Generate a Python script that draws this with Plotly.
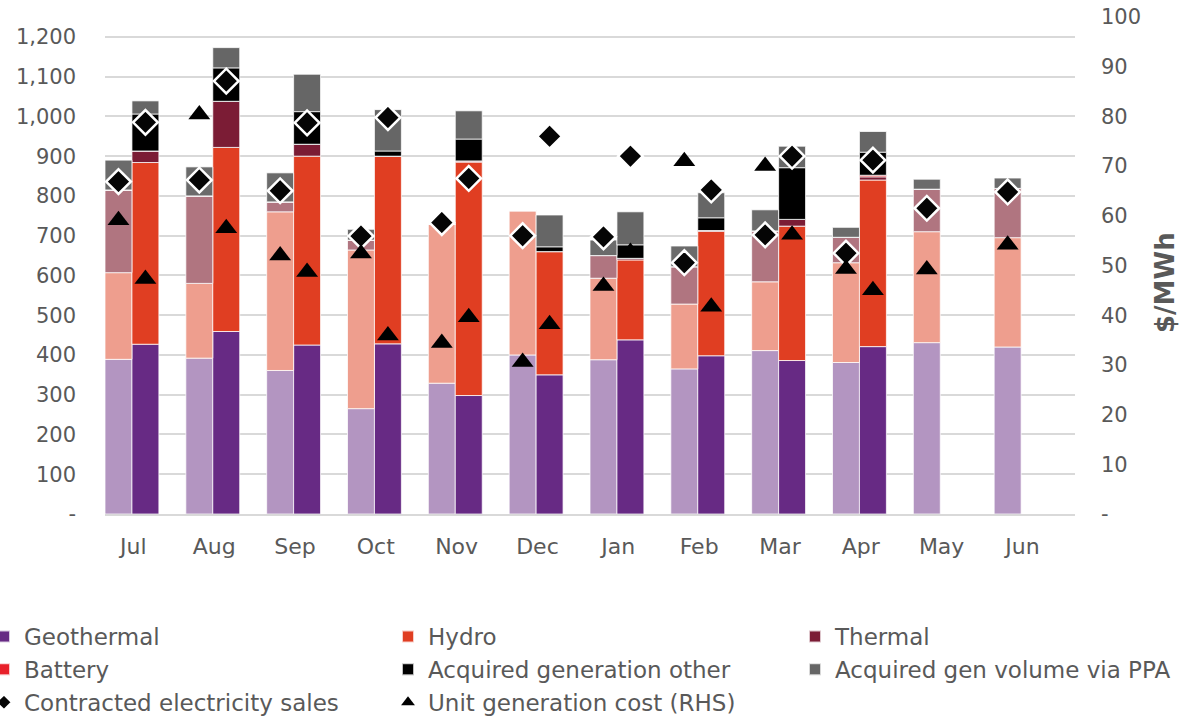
import plotly.graph_objects as go

months = ["Jul", "Aug", "Sep", "Oct", "Nov", "Dec", "Jan", "Feb", "Mar", "Apr", "May", "Jun"]

# Prior year (lighter bars)
geo_prev = [389, 392, 361, 265, 329, 400, 388, 365, 411, 381, 431, 420]
hydro_prev = [218, 188, 399, 399, 400, 362, 205, 163, 173, 251, 279, 275]
thermal_prev = [208, 220, 25, 25, 0, 2, 57, 94, 128, 64, 107, 124]
battery_prev = [0, 0, 0, 0, 0, 0, 0, 0, 0, 0, 0, 0]
other_prev = [0, 0, 0, 0, 0, 0, 0, 0, 0, 0, 0, 0]
ppa_prev = [75, 73, 73, 27, 0, 0, 39, 52, 53, 25, 25, 26]
sales_prev = [836, 840, 813, 699, 733, 700, 697, 632, 702, 656, 769, 810]
cost_prev = [59.1, 80.4, 52.0, 52.4, 34.4, 30.6, 45.9, 71.0, 70.0, 49.3, 49.2, 54.2]

# Current year (darker bars)
geo_curr = [427, 459, 425, 428, 298, 350, 438, 398, 386, 421, None, None]
hydro_curr = [457, 463, 475, 472, 587, 310, 201, 313, 338, 419, None, None]
thermal_curr = [29, 116, 30, 0, 3, 0, 4, 2, 17, 8, None, None]
battery_curr = [0, 0, 0, 0, 0, 0, 0, 0, 0, 4, None, None]
other_curr = [93, 84, 82, 13, 55, 12, 34, 32, 130, 58, None, None]
ppa_curr = [33, 51, 94, 104, 71, 80, 83, 63, 54, 52, None, None]
sales_curr = [985, 1089, 984, 997, 844, 950, 900, 815, 900, 890, None, None]
cost_curr = [47.3, 57.5, 48.7, 35.9, 39.6, 38.2, 52.7, 41.7, 56.2, 45.0, None, None]

left_ticks = list(range(0, 1201, 100))
right_ticks = list(range(0, 101, 10))

n = len(months)
x_prev = [i - 1 / 3 for i in range(n)]
x_curr = [i for i in range(n)]
bar_w = 1 / 3

series = [
    ("Geothermal", geo_prev, geo_curr, "#B395C1", "#672A84", "legend"),
    ("Hydro", hydro_prev, hydro_curr, "#EE9E8E", "#E03E22", "legend2"),
    ("Thermal", thermal_prev, thermal_curr, "#B07580", "#7B1C35", "legend3"),
    ("Battery", battery_prev, battery_curr, "#F08A8E", "#E8202A", "legend"),
    ("Acquired generation other", other_prev, other_curr, "#000000", "#000000", "legend2"),
    ("Acquired gen volume via PPA", ppa_prev, ppa_curr, "#6B6B6B", "#666666", "legend3"),
]

TXT = "#595959"
FONT = "DejaVu Sans"
fig = go.Figure()
line = dict(color="rgba(255,255,255,0.75)", width=1)

for name, prev, curr, cprev, ccurr, lg in series:
    fig.add_trace(go.Bar(x=x_prev, y=prev, width=bar_w, name=name, legendgroup=name,
                         showlegend=False, marker=dict(color=cprev, line=line)))
    fig.add_trace(go.Bar(x=x_curr, y=curr, width=bar_w, name=name, legendgroup=name,
                         legend=lg, marker=dict(color=ccurr, line=line)))

dia = dict(symbol="diamond", size=19, color="#050505", line=dict(color="white", width=2.5))
fig.add_trace(go.Scatter(x=x_prev, y=sales_prev, mode="markers", marker=dia,
                         name="Contracted electricity sales", legendgroup="sales", showlegend=False))
fig.add_trace(go.Scatter(x=x_curr, y=sales_curr, mode="markers", marker=dia,
                         name="Contracted electricity sales", legendgroup="sales", legend="legend"))

tri = dict(symbol="triangle-up", size=19, color="#000000", line=dict(width=0))
fig.add_trace(go.Scatter(x=x_prev, y=cost_prev, mode="markers", marker=tri, yaxis="y2",
                         name="Unit generation cost (RHS)", legendgroup="cost", showlegend=False))
fig.add_trace(go.Scatter(x=x_curr, y=cost_curr, mode="markers", marker=tri, yaxis="y2",
                         name="Unit generation cost (RHS)", legendgroup="cost", legend="legend2"))

W, H = 1194, 717
ml, mr, mt, mb = 105, 119, 17, 203
pw, ph = W - ml - mr, H - mt - mb

def px_x(p):
    return (p - ml) / pw

def px_y(p):
    return (H - mb - p) / ph

leg_common = dict(orientation="v", font=dict(family=FONT, size=23, color=TXT),
                  itemsizing="constant", bgcolor="rgba(0,0,0,0)", tracegroupgap=0,
                  xanchor="left", yanchor="top", traceorder="normal")
leg_top = px_y(615)

fig.update_layout(
    width=W, height=H,
    margin=dict(l=ml, r=mr, t=mt, b=mb, autoexpand=False),
    paper_bgcolor="white", plot_bgcolor="white",
    barmode="relative",
    font=dict(family=FONT, color=TXT),
    xaxis=dict(range=[-0.5, n - 0.5], tickmode="array", automargin=False,
               tickvals=[i - 0.15 for i in range(n)], ticktext=months,
               showgrid=False, zeroline=False, showline=True, linecolor="#D9D9D9", linewidth=2,
               ticks="", tickfont=dict(family=FONT, size=22, color=TXT), ticklabelstandoff=12),
    yaxis=dict(range=[0, 1250], tickmode="array", tickvals=left_ticks, automargin=False,
               ticktext=["-" if v == 0 else f"{v:,}" for v in left_ticks],
               showgrid=True, gridcolor="#D9D9D9", gridwidth=2, zeroline=False,
               ticks="", tickfont=dict(family=FONT, size=21, color=TXT), ticklabelstandoff=28),
    yaxis2=dict(range=[0, 100], overlaying="y", side="right", tickmode="array", automargin=False,
                tickvals=right_ticks, ticktext=["-" if v == 0 else str(v) for v in right_ticks],
                showgrid=False, zeroline=False, ticks="",
                tickfont=dict(family=FONT, size=21, color=TXT), ticklabelstandoff=25),
    legend=dict(x=px_x(-16), y=leg_top, **leg_common),
    legend2=dict(x=px_x(388), y=leg_top, **leg_common),
    legend3=dict(x=px_x(795), y=leg_top, **leg_common),
    annotations=[dict(text="$/MWh", textangle=-90, xref="paper", yref="paper",
                      x=px_x(1165), y=px_y(283), xanchor="center", yanchor="middle",
                      showarrow=False, font=dict(family=FONT, size=26, color=TXT, weight="bold"))],
)

fig.write_html("out.html", config={"displayModeBar": False},
               post_script="document.body.style.margin='0';document.body.style.overflow='hidden';")
